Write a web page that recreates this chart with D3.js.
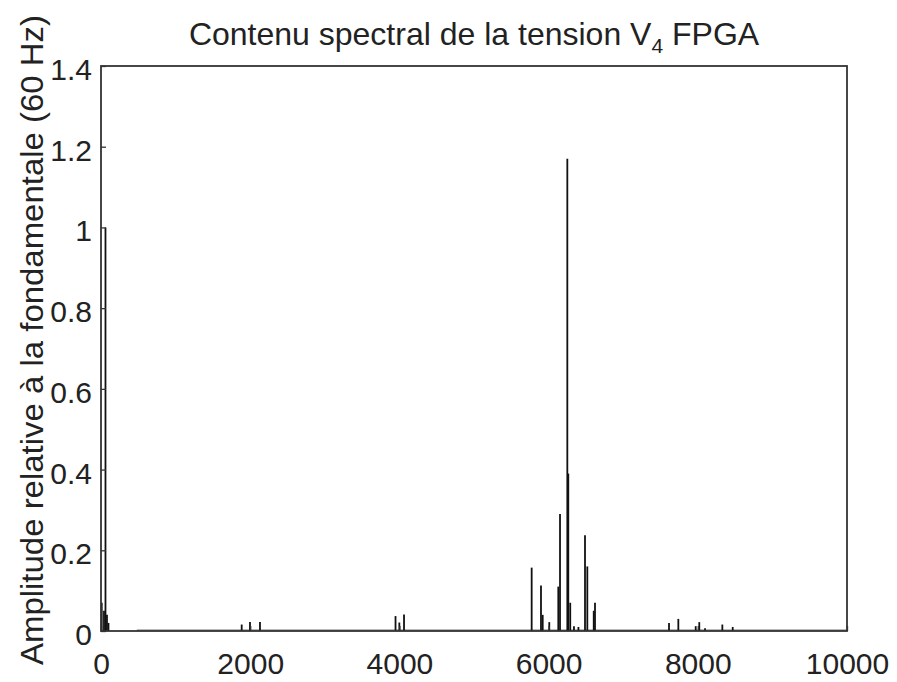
<!DOCTYPE html>
<html>
<head>
<meta charset="utf-8">
<script src="https://cdn.jsdelivr.net/npm/d3@7"></script>
<style>
  body { margin: 0; background: #fff; }
  text { font-family: Arial, "Liberation Sans", sans-serif; fill: #222; }
</style>
</head>
<body>
<script>
// spectre : fréquence (Hz) et amplitude relative à la fondamentale
const freqs = [10, 40, 60, 80, 100,
  1886, 1997, 2131,
  3948, 3999, 4062,
  5773, 5898, 5921, 6009, 6130, 6153, 6251, 6264, 6290, 6340, 6400, 6488, 6519, 6605, 6622,
  7614, 7739, 7972, 8020, 8097, 8329, 8468]
const amps = [0.07, 0.05, 1.0, 0.04, 0.02,
  0.016, 0.022, 0.022,
  0.037, 0.021, 0.041,
  0.157, 0.113, 0.04, 0.022, 0.11, 0.29, 1.17, 0.39, 0.07, 0.012, 0.01, 0.237, 0.16, 0.05, 0.07,
  0.02, 0.03, 0.012, 0.022, 0.007, 0.016, 0.01]
// plancher de bruit
const floorRange = [480, 10000]
const floorLevel = 0.002

const xTicks = [0, 2000, 4000, 6000, 8000, 10000]
const yTicks = [0, 0.2, 0.4, 0.6, 0.8, 1, 1.2, 1.4]

let width = 897
let height = 682
let margin = {left: 101, right: 50, top: 66, bottom: 51}

let svg = d3.select('body').append('svg')
  .attr('width', width)
  .attr('height', height)

let x = d3.scaleLinear().domain([0, 10000]).range([margin.left, width - margin.right])
let y = d3.scaleLinear().domain([0, 1.4]).range([height - margin.bottom, margin.top])

// noise floor
svg.append('line')
  .attr('x1', x(floorRange[0])).attr('x2', x(floorRange[1]))
  .attr('y1', y(floorLevel)).attr('y2', y(floorLevel))
  .attr('stroke', '#777').attr('stroke-width', 1.2)

// spikes
let spikes = freqs.map((f, i) => ({f: f, a: amps[i]}))
svg.append('g').selectAll('line').data(spikes)
  .enter()
  .append('line')
  .attr('x1', d => x(d.f)).attr('x2', d => x(d.f))
  .attr('y1', y(0)).attr('y2', d => y(d.a))
  .attr('stroke', '#111')
  .attr('stroke-width', 1.8)

// axes box
svg.append('rect')
  .attr('x', x(0)).attr('y', y(1.4))
  .attr('width', x(10000) - x(0))
  .attr('height', y(0) - y(1.4))
  .attr('fill', 'none')
  .attr('stroke', '#333')
  .attr('stroke-width', 1.8)

let xAxis = svg.append('g')
  .attr('transform', `translate(0,${y(0)})`)
  .call(d3.axisBottom(x).tickValues(xTicks).tickSizeInner(-5).tickSizeOuter(0).tickPadding(22)
    .tickFormat(d3.format('d')))
let yAxis = svg.append('g')
  .attr('transform', `translate(${x(0)},0)`)
  .call(d3.axisLeft(y).tickValues(yTicks).tickSizeInner(-5).tickSizeOuter(0).tickPadding(9)
    .tickFormat(d => d3.format('~g')(d)))

;[xAxis, yAxis].forEach(g => {
  g.select('.domain').remove()
  g.selectAll('line').attr('stroke', '#333').attr('stroke-width', 1.3)
  g.selectAll('text')
    .attr('font-size', 30)
    .attr('fill', '#222')
    .style('font-family', 'Arial, "Liberation Sans", sans-serif')
})
yAxis.selectAll('text').attr('dy', '0.45em')

// title
let title = svg.append('text')
  .attr('x', (x(0) + x(10000)) / 2)
  .attr('y', 45)
  .attr('text-anchor', 'middle')
  .attr('font-size', 32)
title.append('tspan').text('Contenu spectral de la tension V')
title.append('tspan').attr('font-size', 21).attr('dy', 8).text('4')
title.append('tspan').attr('dy', -8).text(' FPGA')

// y label
svg.append('text')
  .attr('transform', `translate(43,340) rotate(-90)`)
  .attr('text-anchor', 'middle')
  .attr('font-size', 32)
  .attr('textLength', 650)
  .attr('lengthAdjust', 'spacingAndGlyphs')
  .text('Amplitude relative à la fondamentale (60 Hz)')
</script>
</body>
</html>
